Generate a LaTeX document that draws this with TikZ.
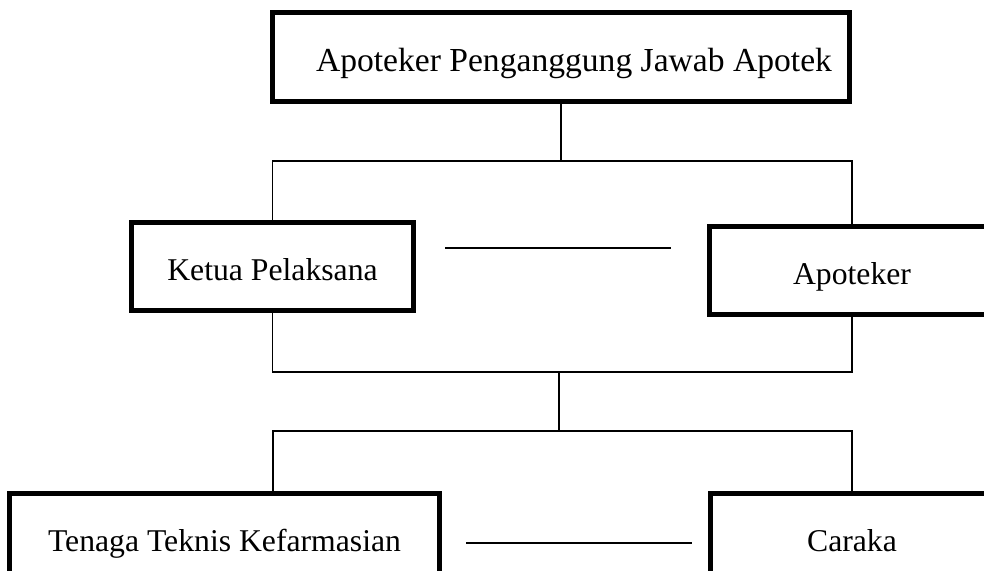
\documentclass[tikz,border=0pt]{standalone}
\usepackage{fontspec}
\setmainfont{Liberation Serif}
\begin{document}
\begin{tikzpicture}[x=1pt,y=-1pt,
  orgbox/.style={draw=black, line width=5pt, rectangle, inner sep=0pt,
    minimum height=88pt, text height=27pt, text depth=0pt,
    font=\fontsize{31.7}{38}\selectfont},
  link/.style={draw=black, line width=1.7pt}]
\useasboundingbox (0,0) rectangle (984,570);
\node[orgbox, minimum width=577pt, minimum height=89pt, text height=29pt,
  font=\fontsize{33.6}{40}\selectfont] (top) at (561,57) {\hspace*{26pt}Apoteker Penganggung Jawab Apotek};
\node[orgbox, minimum width=282pt] (ketua) at (272.5,266.5) {Ketua Pelaksana};
\node[orgbox, minimum width=285pt] (apt) at (852,270.5) {Apoteker};
\node[orgbox, minimum width=430pt] (ttk) at (224.5,537.5) {Tenaga Teknis Kefarmasian};
\node[orgbox, minimum width=283pt] (caraka) at (852,537.5) {Caraka};
\coordinate (j1) at (561,161);
\coordinate (j2) at (559,372);
\coordinate (j3) at (559,431);
\coordinate (m1a) at (445,248);
\coordinate (m1b) at (671,248);
\coordinate (m2a) at (466,543);
\coordinate (m2b) at (692,543);
\draw[link] (top.south) -- (j1);
\draw[link] (ketua.north) |- (j1) -| (apt.north);
\draw[link] (ketua.south) |- (j2) -| (apt.south);
\draw[link] (j2) -- (j3);
\draw[link] ([xshift=48.5pt]ttk.north) |- (j3) -| (caraka.north);
\draw[link] (m1a) -- (m1b);
\draw[link] (m2a) -- (m2b);
\end{tikzpicture}
\end{document}
